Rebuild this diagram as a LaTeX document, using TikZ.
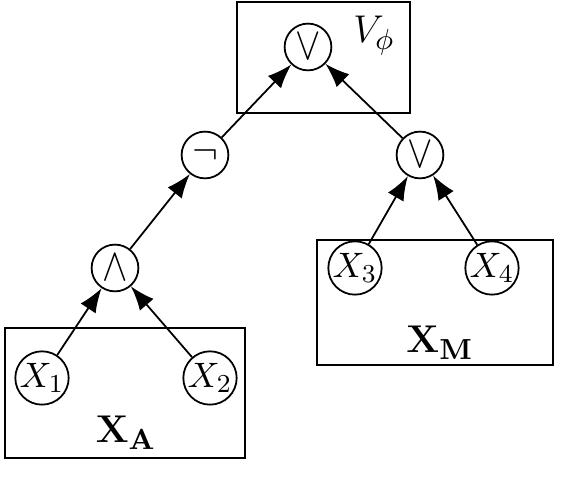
\documentclass[tikz,border=0pt]{standalone}
\usetikzlibrary{arrows.meta}
\begin{document}
\begin{tikzpicture}[x=0.31pt,y=-0.31pt,
  op/.style={circle,draw,line width=0.55pt,minimum size=14.5pt,inner sep=0pt},
  opsym/.style={op,font=\fontsize{14}{16}\selectfont},
  var/.style={op,font=\fontsize{11.3}{13}\selectfont},
  lab/.style={font=\fontsize{12.5}{15}\selectfont},
  plate/.style={draw,line width=0.55pt},
  arr/.style={-{Latex[length=7.5pt,width=5.6pt]},line width=0.55pt}]
\useasboundingbox (0,0) rectangle (570,496);
% plates
\draw[plate] (237,2) rectangle (410,113);
\draw[plate] (317,240) rectangle (553,365);
\draw[plate] (5,328) rectangle (245,458);
% nodes
\node[opsym] (r) at (308,47) {\scalebox{0.82}[1]{$\vee$}};
\node[font=\fontsize{13}{15}\selectfont] (vphi) at (374,36) {$V_\phi$};
\node[op,font=\fontsize{11.5}{13}\selectfont] (n) at (205,155) {$\neg$};
\node[opsym] (o) at (420,155) {\scalebox{0.82}[1]{$\vee$}};
\node[opsym] (a) at (115,268) {\scalebox{0.82}[1]{$\wedge$}};
\node[var] (x1) at (42,378) {$X_1$};
\node[var] (x2) at (210,378) {$X_2$};
\node[var] (x3) at (355,268) {$X_3$};
\node[var] (x4) at (492,268) {$X_4$};
\node[lab] (xa) at (126,433) {$\mathbf{X_A}$};
\node[lab] (xm) at (440,343) {$\mathbf{X_M}$};
% edges
\draw[arr] (n) -- (r);
\draw[arr] (o) -- (r);
\draw[arr] (a) -- (n);
\draw[arr] (x1) -- (a);
\draw[arr] (x2) -- (a);
\draw[arr] (x3) -- (o);
\draw[arr] (x4) -- (o);
\end{tikzpicture}
\end{document}
